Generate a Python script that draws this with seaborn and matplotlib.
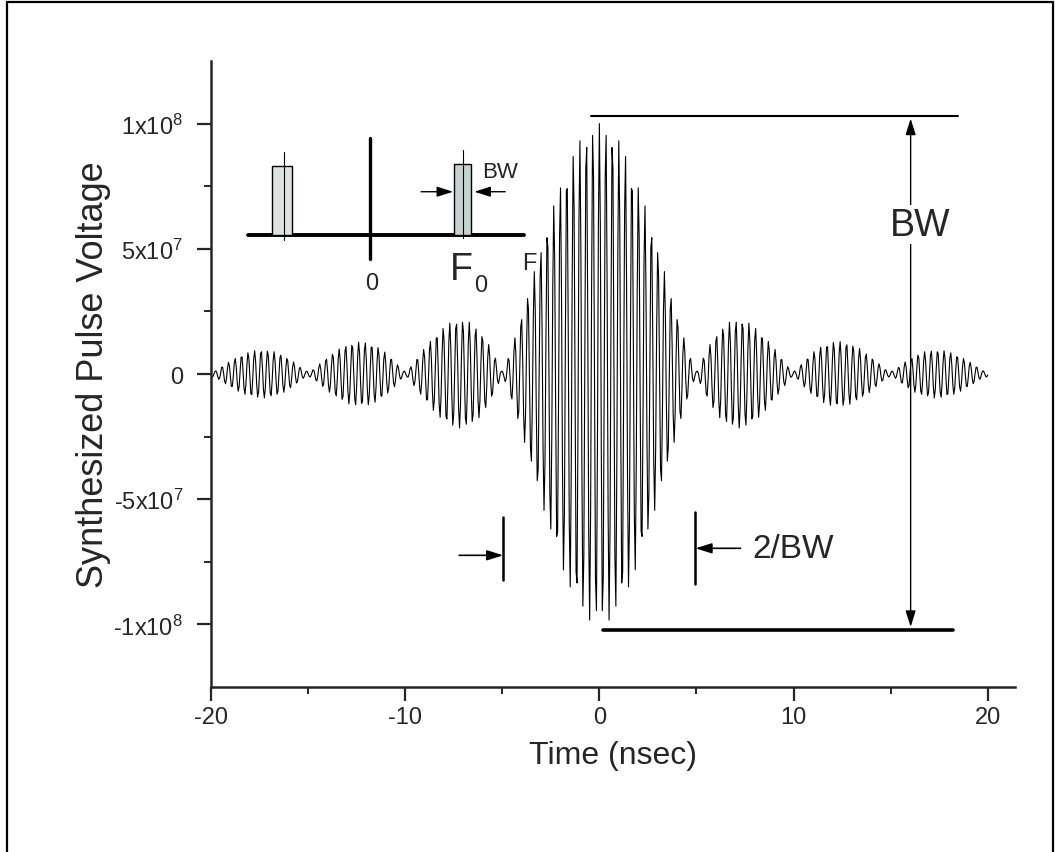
import numpy as np
import pandas as pd
import matplotlib
matplotlib.use("Agg")
import matplotlib.pyplot as plt
from matplotlib.lines import Line2D
from matplotlib.patches import Rectangle
import seaborn as sns

# envelope lobes of the synthesized pulse (ns, volts)
lobe_edges = [-20, -15, -10, -5, 5, 10, 15, 20]
lobe_peaks = [0.96e7, 1.28e7, 2.16e7, 1.0e8, 2.16e7, 1.3e7, 0.96e7]
null_ripple = 1.2e6
carrier_ghz = 2.985    # about 0.335 ns between crests
sample_ns = 0.05

x_ticks = [-20, -10, 0, 10, 20]
x_minor = [-15, -5, 5, 15]
y_ticks = [-1e8, -5e7, 0, 5e7, 1e8]
y_labels = [r"-1x10$^8$", r"-5x10$^7$", "0", r"5x10$^7$", r"1x10$^8$"]
y_minor = [-7.5e7, -2.5e7, 2.5e7, 7.5e7]


def build_pulse():
    t = np.arange(lobe_edges[0], lobe_edges[-1] + sample_ns / 2, sample_ns)
    # lobes are spaced 5 ns apart, shape each one like a sinc lobe
    shape = np.abs(np.sinc(t / 5.0))
    env = np.zeros_like(t)
    for a, b, p in zip(lobe_edges[:-1], lobe_edges[1:], lobe_peaks):
        m = (t >= a) & (t <= b)
        env[m] = np.maximum(env[m], shape[m] / shape[m].max() * p)
    env = np.maximum(env, null_ripple)
    v = env * np.cos(2 * np.pi * carrier_ghz * t)
    return pd.DataFrame({"time": t, "voltage": v})


def arrow(ax, start, end, style="-|>", lw=1.2):
    ax.annotate("", xy=end, xytext=start,
                arrowprops=dict(arrowstyle=style + ",head_length=0.7,head_width=0.22",
                                color="black", lw=lw, shrinkA=0, shrinkB=0,
                                mutation_scale=14))


sns.set_style("ticks")
plt.rcParams["font.family"] = ["Liberation Sans", "DejaVu Sans"]
plt.rcParams["mathtext.fontset"] = "custom"
plt.rcParams["mathtext.rm"] = "Liberation Sans"
plt.rcParams["mathtext.it"] = "Liberation Sans"
plt.rcParams["mathtext.default"] = "regular"

df = build_pulse()

fig = plt.figure(figsize=(10.55, 8.53), dpi=100)
ax = fig.add_axes([0.2, 0.1934, 0.762, 0.7339])
sns.lineplot(data=df, x="time", y="voltage", color="black", lw=0.8,
             estimator=None, sort=False, ax=ax)

ax.set_xlim(-20, 21.4)
ax.set_ylim(-1.25e8, 1.25e8)
ax.set_xticks(x_ticks)
ax.set_xticklabels([str(v) for v in x_ticks])
ax.set_xticks(x_minor, minor=True)
ax.set_yticks(y_ticks)
ax.set_yticklabels(y_labels)
ax.set_yticks(y_minor, minor=True)
ax.tick_params(which="major", length=10, width=1.6, labelsize=17, direction="out")
ax.tick_params(which="minor", length=5, width=1.4, direction="out")
ax.tick_params(axis="y", which="major", pad=10)
ax.tick_params(axis="x", which="major", pad=4)
for side in ["top", "right"]:
    ax.spines[side].set_visible(False)
for side in ["left", "bottom"]:
    ax.spines[side].set_linewidth(1.8)
ax.set_xlabel("Time (nsec)", fontsize=23, labelpad=8)
ax.set_ylabel("Synthesized Pulse Voltage", fontsize=26, labelpad=2)

# amplitude span marker
ax.plot([-0.41, 18.45], [1.032e8, 1.032e8], color="black", lw=1.5)
ax.plot([0.21, 18.2], [-1.024e8, -1.024e8], color="black", lw=2.6)
arrow(ax, (16.03, 0), (16.03, 1.02e8), lw=1.0)
arrow(ax, (16.03, 0), (16.03, -1.01e8), lw=1.0)
ax.text(16.5, 0.596e8, "BW", fontsize=27, ha="center", va="center",
        bbox=dict(facecolor="white", edgecolor="none", pad=1))

# main lobe width marker
ax.plot([-4.95, -4.95], [-0.572e8, -0.824e8], color="black", lw=1.8)
ax.plot([4.95, 4.95], [-0.552e8, -0.84e8], color="black", lw=1.8)
arrow(ax, (-7.22, -0.724e8), (-4.95, -0.724e8))
arrow(ax, (7.27, -0.696e8), (4.95, -0.696e8))
ax.text(7.89, -0.696e8, "2/BW", fontsize=24, ha="left", va="center")

# spectrum sketch
ax.plot([-18.09, -3.87], [5.56e7, 5.56e7], color="black", lw=2.8)
ax.plot([-11.80, -11.80], [9.44e7, 4.6e7], color="black", lw=2.4)
ax.add_patch(Rectangle((-16.86, 5.56e7), 1.04, 2.76e7, facecolor="#dde3e0",
                       edgecolor="black", lw=1.0, zorder=3))
ax.add_patch(Rectangle((-7.47, 5.56e7), 0.87, 2.84e7, facecolor="#c5d2d2",
                       edgecolor="black", lw=1.0, zorder=3))
ax.plot([-16.24, -16.24], [8.88e7, 5.36e7], color="black", lw=0.8, zorder=4)
ax.plot([-7.01, -7.01], [8.96e7, 5.44e7], color="black", lw=0.8, zorder=4)
arrow(ax, (-9.18, 7.28e7), (-7.53, 7.28e7), lw=1.0)
arrow(ax, (-4.85, 7.28e7), (-6.44, 7.28e7), lw=1.0)
ax.text(-5.1, 8.08e7, "BW", fontsize=16, ha="center", va="center")
ax.text(-11.70, 3.64e7, "0", fontsize=17, ha="center", va="center")
ax.text(-7.68, 3.8e7, "F", fontsize=27, ha="left", va="baseline")
ax.text(-6.45, 3.3e7, "0", fontsize=17, ha="left", va="baseline")
ax.text(-3.97, 4.2e7, "F", fontsize=17, ha="left", va="baseline", zorder=5)

# outer frame
fig.add_artist(Line2D([7 / 1055, 7 / 1055], [0, 1 - 3 / 853], color="black", lw=1.6))
fig.add_artist(Line2D([7 / 1055, 1053 / 1055], [1 - 3 / 853, 1 - 3 / 853], color="black", lw=1.6))
fig.add_artist(Line2D([1053 / 1055, 1053 / 1055], [0, 1 - 3 / 853], color="black", lw=1.6))

fig.savefig("out.png", dpi=100)
